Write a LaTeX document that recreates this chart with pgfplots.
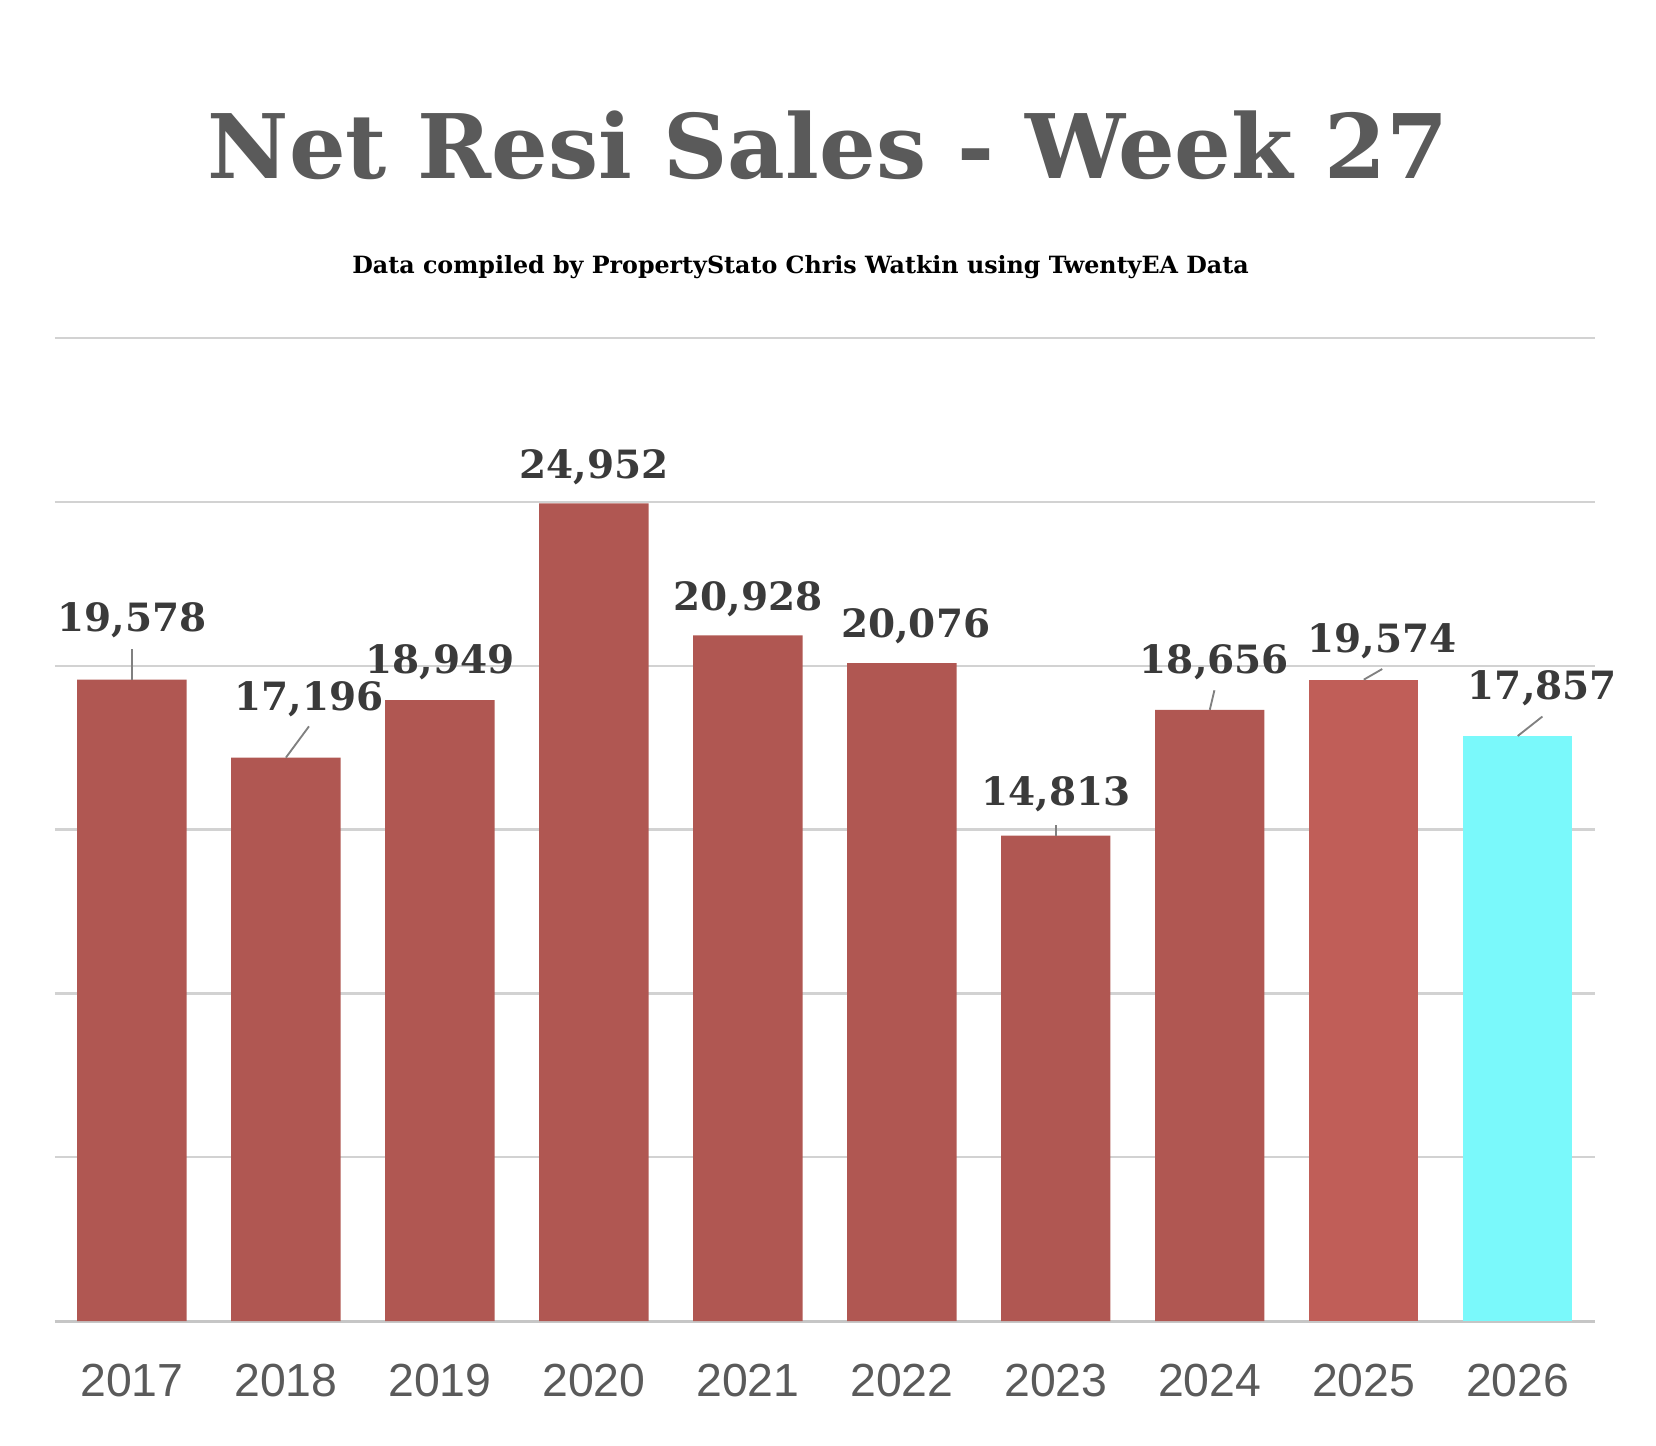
\documentclass[border=0pt]{standalone}
\usepackage{pgfplots}
\pgfplotsset{compat=1.18}
\usepackage{fontspec}
\setmainfont{DejaVu Serif}
\newfontfamily\sans{Liberation Sans}
\definecolor{barred}{HTML}{B05752}
\definecolor{barred2}{HTML}{C05E58}
\definecolor{cyanbar}{HTML}{7AF9FB}
\definecolor{titlegray}{HTML}{5A5A5A}
\definecolor{lab}{HTML}{3A3A3A}
\begin{document}
\begin{tikzpicture}
\path[use as bounding box] (0,0) rectangle (15.68,-13.69);
\node[font=\fontsize{24}{29}\selectfont\bfseries, text=titlegray] at (7.84,-1.38) {Net Resi Sales - Week 27};
\node[font=\fontsize{6.4}{8}\selectfont\bfseries] at (7.58,-2.53) {Data compiled by PropertyStato Chris Watkin using TwentyEA Data};
\begin{axis}[at={(0.52cm,-12.51cm)}, anchor=south west, scale only axis,
  width=14.58cm, height=9.31cm,
  xmin=-0.5, xmax=9.5, ymin=0, ymax=30000,
  ytick={0,5000,...,30000}, yticklabels={}, scaled y ticks=false,
  ymajorgrids, grid style={draw=gray!35, line width=0.6pt},
  axis line style={draw=none}, major tick length=0pt,
  xtick={0,...,9}, xticklabels={2017,2018,2019,2020,2021,2022,2023,2024,2025,2026},
  xticklabel style={font=\sans\fontsize{12.5}{15}\selectfont, text=titlegray, yshift=-8pt},
  clip=false]
\draw[gray!45, line width=0.8pt] (axis cs:-0.5,0) -- (axis cs:9.5,0);
\addplot[ybar, bar width=0.71, bar shift=0pt, fill=barred, draw=none] coordinates {(0,19578) (1,17196) (2,18949) (3,24952) (4,20928) (5,20076) (6,14813) (7,18656)};
\addplot[ybar, bar width=0.71, bar shift=0pt, fill=barred2, draw=none] coordinates {(8,19574)};
\addplot[ybar, bar width=0.71, bar shift=0pt, fill=cyanbar, draw=none] coordinates {(9,17857)};
\addplot[gray, line width=0.5pt] coordinates {(0,19578) (0,20500)};
\addplot[gray, line width=0.5pt] coordinates {(1,17196) (1.15,18150)};
\addplot[gray, line width=0.5pt] coordinates {(6,14813) (6,15150)};
\addplot[gray, line width=0.5pt] coordinates {(7,18656) (7.03,19250)};
\addplot[gray, line width=0.5pt] coordinates {(8,19574) (8.12,19900)};
\addplot[gray, line width=0.5pt] coordinates {(9,17857) (9.16,18450)};
\addplot[only marks, mark=none, point meta=explicit symbolic,
  nodes near coords, nodes near coords align={center},
  every node near coord/.style={font=\fontsize{10.5}{13}\selectfont\bfseries, text=lab, anchor=center}]
  table[meta=l] {
x y l
0 21396 19,578
1.15 18980 17,196
2 20107 18,949
3 26069 24,952
4 22040 20,928
5.09 21203 20,076
6 16079 14,813
7.03 20107 18,656
8.12 20752 19,574
9.16 19302 17,857
};
\end{axis}
\end{tikzpicture}
\end{document}
